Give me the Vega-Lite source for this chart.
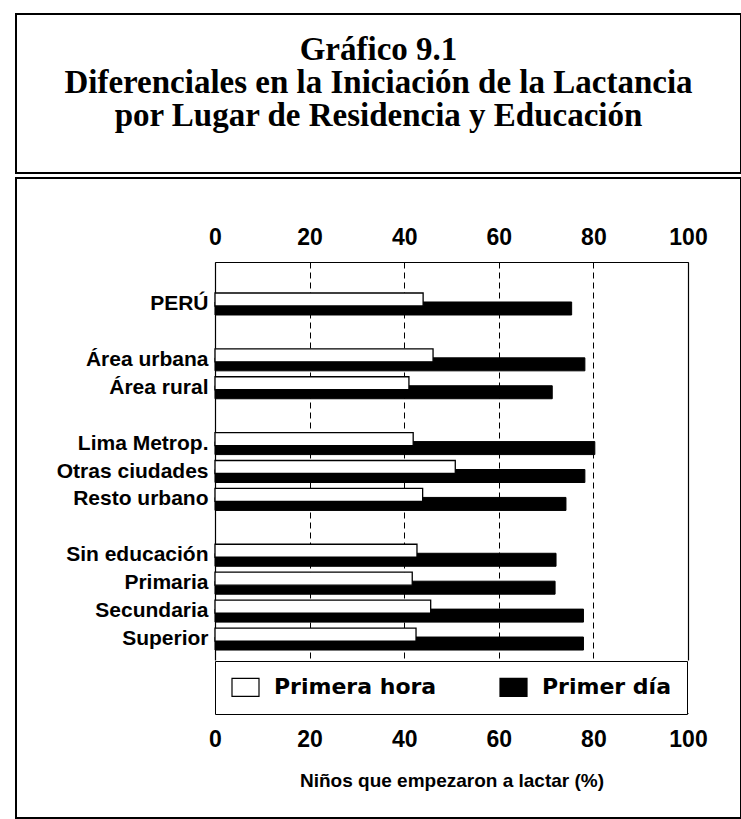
{
  "$schema": "https://vega.github.io/schema/vega-lite/v6.json",
  "padding": {"left": 15, "top": 13, "right": 0, "bottom": 0},
  "background": "white",
  "spacing": 3,
  "datasets": {
    "titulo": [
      {"linea": 1, "texto": "Gráfico 9.1"},
      {"linea": 2, "texto": "Diferenciales en la Iniciación de la Lactancia"},
      {"linea": 3, "texto": "por Lugar de Residencia y Educación"}
    ],
    "lactancia": [
      {"categoria": "PERÚ", "serie": "Primera hora", "valor": 44.0},
      {"categoria": "PERÚ", "serie": "Primer día", "valor": 75.4},
      {"categoria": "Área urbana", "serie": "Primera hora", "valor": 46.1},
      {"categoria": "Área urbana", "serie": "Primer día", "valor": 78.2},
      {"categoria": "Área rural", "serie": "Primera hora", "valor": 41.0},
      {"categoria": "Área rural", "serie": "Primer día", "valor": 71.3},
      {"categoria": "Lima Metrop.", "serie": "Primera hora", "valor": 41.9},
      {"categoria": "Lima Metrop.", "serie": "Primer día", "valor": 80.3},
      {"categoria": "Otras ciudades", "serie": "Primera hora", "valor": 50.8},
      {"categoria": "Otras ciudades", "serie": "Primer día", "valor": 78.2},
      {"categoria": "Resto urbano", "serie": "Primera hora", "valor": 43.9},
      {"categoria": "Resto urbano", "serie": "Primer día", "valor": 74.2},
      {"categoria": "Sin educación", "serie": "Primera hora", "valor": 42.7},
      {"categoria": "Sin educación", "serie": "Primer día", "valor": 72.1},
      {"categoria": "Primaria", "serie": "Primera hora", "valor": 41.7},
      {"categoria": "Primaria", "serie": "Primer día", "valor": 71.9},
      {"categoria": "Secundaria", "serie": "Primera hora", "valor": 45.6},
      {"categoria": "Secundaria", "serie": "Primer día", "valor": 77.9},
      {"categoria": "Superior", "serie": "Primera hora", "valor": 42.5},
      {"categoria": "Superior", "serie": "Primer día", "valor": 77.9}
    ]
  },
  "vconcat": [
    {
      "width": 725,
      "height": 159,
      "view": {"stroke": "black", "strokeWidth": 2},
      "data": {"name": "titulo"},
      "mark": {"type": "text", "font": "Liberation Serif", "fontWeight": "bold", "fontSize": 33, "baseline": "alphabetic", "align": "center", "color": "black"},
      "encoding": {
        "y": {"field": "linea", "type": "ordinal", "axis": null, "scale": {"type": "point", "range": [46, 112], "padding": 0}},
        "text": {"field": "texto", "type": "nominal"}
      }
    },
    {
      "width": 725,
      "height": 640,
      "view": {"stroke": "black", "strokeWidth": 2},
      "data": {"name": "lactancia"},
      "encoding": {
        "y": {
          "field": "categoria",
          "type": "nominal",
          "scale": {
            "domain": ["PERÚ", "_1", "Área urbana", "Área rural", "_2", "Lima Metrop.", "Otras ciudades", "Resto urbano", "_3", "Sin educación", "Primaria", "Secundaria", "Superior"],
            "range": [84, 482],
            "paddingInner": 0,
            "paddingOuter": 0.6275,
            "align": 0.8
          }
        },
        "color": {
          "field": "serie",
          "type": "nominal",
          "scale": {"domain": ["Primera hora", "Primer día"], "range": ["white", "black"]},
          "legend": {
            "orient": "none",
            "legendX": 199,
            "legendY": 647,
            "direction": "horizontal",
            "title": null,
            "padding": 15,
            "strokeColor": "black",
            "fillColor": "white",
            "symbolType": "M-1,-1H2V1H-1Z",
            "symbolSize": 324,
            "symbolStrokeColor": "black",
            "symbolStrokeWidth": 1.2,
            "symbolOpacity": 1,
            "labelFont": "DejaVu Sans",
            "labelFontWeight": "bold",
            "labelFontSize": 22,
            "labelColor": "black",
            "labelOffset": 22,
            "labelLimit": 400,
            "columnPadding": 60
          }
        }
      },
      "layer": [
        {
          "transform": [{"filter": "datum.serie === 'Primer día'"}],
          "mark": {"type": "bar", "height": 13, "yOffset": 4.5, "stroke": "black", "strokeWidth": 1},
          "encoding": {
            "x": {
              "field": "valor",
              "type": "quantitative",
              "scale": {"domain": [0, 100], "nice": false, "range": [199, 672]},
              "axis": {
                "orient": "top",
                "offset": -84,
                "title": null,
                "values": [0, 20, 40, 60, 80, 100],
                "grid": true,
                "gridColor": "black",
                "gridDash": [6, 4],
                "gridWidth": 1,
                "gridOpacity": 1,
                "ticks": false,
                "domain": true,
                "domainColor": "black",
                "domainWidth": 1.2,
                "labelFlush": false,
                "labelFont": "Liberation Sans",
                "labelFontWeight": "bold",
                "labelFontSize": 23,
                "labelColor": "black",
                "labelPadding": 13
              }
            },
            "y": {
              "field": "categoria",
              "type": "nominal",
              "axis": {
                "orient": "left",
                "offset": -199,
                "title": null,
                "ticks": false,
                "domain": true,
                "domainColor": "black",
                "domainWidth": 1.2,
                "labelExpr": "indexof(datum.label, '_') === 0 ? '' : datum.label",
                "labelFont": "Liberation Sans",
                "labelFontWeight": "bold",
                "labelFontSize": 21,
                "labelColor": "black",
                "labelPadding": 7,
                "labelBaseline": "middle"
              }
            }
          }
        },
        {
          "transform": [{"filter": "datum.serie === 'Primera hora'"}],
          "mark": {"type": "bar", "height": 13, "yOffset": -4.5, "stroke": "black", "strokeWidth": 1.3},
          "encoding": {
            "x": {
              "field": "valor",
              "type": "quantitative",
              "scale": {"domain": [0, 100], "nice": false, "range": [199, 672]},
              "axis": {
                "orient": "bottom",
                "offset": -105,
                "title": "Niños que empezaron a lactar (%)",
                "values": [0, 20, 40, 60, 80, 100],
                "grid": false,
                "ticks": false,
                "domain": true,
                "domainColor": "black",
                "domainWidth": 1.2,
                "labelFlush": false,
                "labelFont": "Liberation Sans",
                "labelFontWeight": "bold",
                "labelFontSize": 23,
                "labelColor": "black",
                "labelPadding": 15,
                "titleFont": "Liberation Sans",
                "titleFontWeight": "bold",
                "titleFontSize": 19,
                "titleColor": "black",
                "titlePadding": 20
              }
            },
            "y": {
              "field": "categoria",
              "type": "nominal",
              "axis": {
                "orient": "right",
                "offset": -53,
                "title": null,
                "ticks": false,
                "labels": false,
                "domain": true,
                "domainColor": "black",
                "domainWidth": 1.2,
                "grid": false
              }
            }
          }
        }
      ],
      "resolve": {"axis": {"x": "independent", "y": "independent"}}
    }
  ]
}
